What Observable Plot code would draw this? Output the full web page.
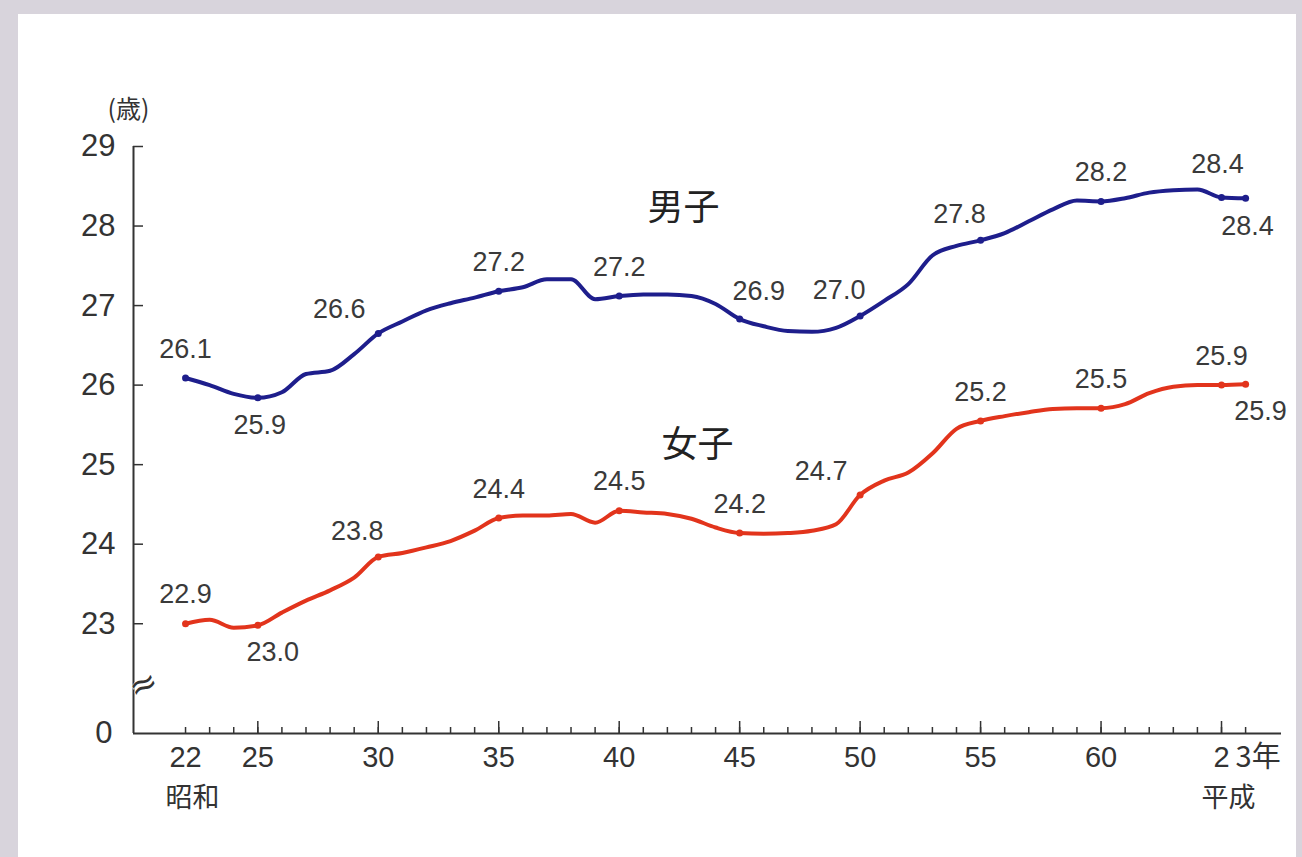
<!DOCTYPE html>
<html>
<head>
<meta charset="utf-8">
<script src="https://cdn.jsdelivr.net/npm/d3@7"></script>
<script src="https://cdn.jsdelivr.net/npm/@observablehq/plot@0.6"></script>
<style>
  html, body { margin: 0; padding: 0; width: 1302px; height: 857px; overflow: hidden; background: #d8d4dc; }
  #panel { position: absolute; left: 18px; top: 14px; width: 1278px; height: 843px; background: #ffffff; }
  #chart { position: absolute; left: 0; top: 0; }
  #chart svg { background: transparent !important; }
</style>
</head>
<body>
<div id="panel"></div>
<div id="chart"></div>
<script>
// Years on the Showa count (64 = Heisei 1, 65 = Heisei 2, 66 = Heisei 3)
const years = [22,23,24,25,26,27,28,29,30,31,32,33,34,35,36,37,38,39,40,41,42,43,44,45,46,47,48,49,50,51,52,53,54,55,56,57,58,59,60,61,62,63,64,65,66];
const male = [26.09,26.0,25.89,25.84,25.91,26.14,26.18,26.39,26.65,26.8,26.94,27.03,27.1,27.18,27.23,27.33,27.33,27.08,27.12,27.14,27.14,27.12,27.02,26.83,26.74,26.68,26.67,26.72,26.87,27.06,27.27,27.63,27.75,27.82,27.91,28.06,28.21,28.32,28.31,28.35,28.42,28.45,28.46,28.36,28.35];
const female = [23.0,23.05,22.95,22.98,23.14,23.29,23.42,23.58,23.84,23.89,23.96,24.04,24.17,24.33,24.36,24.36,24.38,24.27,24.42,24.4,24.38,24.32,24.21,24.14,24.13,24.14,24.17,24.25,24.62,24.8,24.9,25.14,25.45,25.55,25.61,25.66,25.7,25.71,25.71,25.76,25.9,25.98,26.0,26.0,26.01];

// Labelled years and their printed values
const labelYears = [22,25,30,35,40,45,50,55,60,65,66];
const maleLabels = ["26.1","25.9","26.6","27.2","27.2","26.9","27.0","27.8","28.2","28.4","28.4"];
const maleLabelSide = ["above","below","left","above","above","above-right","above-left","above-left","above","above-high","below"];
const femaleLabels = ["22.9","23.0","23.8","24.4","24.5","24.2","24.7","25.2","25.5","25.9","25.9"];
const femaleLabelSide = ["above","below-right","above-left","above","above","above","left","above","above","above","below-right"];

// Series names
const seriesNames = ["男子","女子"];
const seriesNameYear = [42.67, 43.25];
const seriesNameAge = [28.22, 25.24];

// Axis ticks
const minorTicks = years;
const majorTicks = [25,30,35,40,45,50,55,60,65];
const xTickYears = [22,25,30,35,40,45,50,55,60,65];
const xTickLabels = ["22","25","30","35","40","45","50","55","60","2"];
const lastTickYear = 66;
const lastTickLabel = "3年";
const eraLabels = ["昭和","平成"];
const eraYears = [22,65];
const yTicks = [23,24,25,26,27,28,29];
const yBase = 21.62;          // where the broken axis shows 0
const yBreak = 22.16;         // position of the ≈ break mark
const unitLabel = "(歳)";

const colors = {"男子": "#1e1e8c", "女子": "#e2341c"};
const num = "'Liberation Sans', Arial, Helvetica, sans-serif";
const cjk = "'Noto Sans CJK JP', sans-serif";

const series = years.flatMap((y, i) => [
  {year: y, sex: "男子", age: male[i]},
  {year: y, sex: "女子", age: female[i]}
]);
const ageAt = (arr, y) => arr[years.indexOf(y)];
const labelRows = [
  ...labelYears.map((y, i) => ({year: y, age: ageAt(male, y), text: maleLabels[i], side: maleLabelSide[i], sex: "男子"})),
  ...labelYears.map((y, i) => ({year: y, age: ageAt(female, y), text: femaleLabels[i], side: femaleLabelSide[i], sex: "女子"}))
];
const sideOffsets = {
  "above": [0, -29],
  "above-high": [-4, -33],
  "below": [2, 28],
  "above-left": [-21, -26],
  "left": [-39, -24],
  "above-right": [19, -28],
  "below-right": [15, 27]
};

const textMarks = Object.entries(sideOffsets).map(([side, [dx, dy]]) =>
  Plot.text(labelRows.filter(d => d.side === side), {
    x: "year", y: "age", text: "text", dx, dy,
    fontSize: 27, fill: "#3a3a3a", fontFamily: num
  })
);

const chart = Plot.plot({
  width: 1302,
  height: 857,
  marginLeft: 133,
  marginRight: 21,
  marginTop: 146,
  marginBottom: 124,
  style: {background: "transparent", fontFamily: num, color: "#333"},
  x: {domain: [19.84, 67.49], label: null},
  y: {domain: [yBase, 29], label: null},
  color: {domain: Object.keys(colors), range: Object.values(colors)},
  marks: [
    Plot.ruleY([yBase], {stroke: "#333", strokeWidth: 2}),
    Plot.ruleX([19.84], {stroke: "#333", strokeWidth: 2}),
    Plot.axisX({ticks: minorTicks, tickSize: -6, tickFormat: () => "", label: null, stroke: "#333", strokeWidth: 1.5}),
    Plot.axisX({ticks: majorTicks, tickSize: -12, tickFormat: () => "", label: null, stroke: "#333", strokeWidth: 1.5}),
    Plot.axisY({ticks: yTicks, tickSize: -10, tickFormat: () => "", label: null, stroke: "#333", strokeWidth: 1.5}),
    // break mark on the y axis
    Plot.text([yBreak], {y: d => d, frameAnchor: "left", text: () => "≈", fontSize: 34, fill: "#333", rotate: -25, dx: -3, fontFamily: "'DejaVu Sans', sans-serif", stroke: "#fff", strokeWidth: 1, paintOrder: "stroke"}),
    // y tick labels
    Plot.text(yTicks, {y: d => d, frameAnchor: "left", text: d => String(d), dx: -18, textAnchor: "end", fontSize: 31, fill: "#333"}),
    Plot.text([yBase], {y: d => d, frameAnchor: "left", text: () => "0", dx: -21, textAnchor: "end", fontSize: 31, fill: "#333"}),
    // x tick labels
    Plot.text(xTickYears, {x: d => d, frameAnchor: "bottom", text: (d, i) => xTickLabels[i], dy: 33, fontSize: 29, fill: "#333"}),
    Plot.text([lastTickYear], {x: d => d, frameAnchor: "bottom", text: () => lastTickLabel, dy: 33, dx: -10, textAnchor: "start", fontSize: 29, fill: "#333", fontFamily: cjk}),
    Plot.text(eraYears, {x: d => d, frameAnchor: "bottom", text: (d, i) => eraLabels[i], dy: 73, dx: (-20), textAnchor: "start", fontSize: 27, fill: "#333", fontFamily: cjk}),
    // unit
    Plot.text([unitLabel], {frameAnchor: "top-left", text: d => d, textAnchor: "middle", dx: -5, dy: -46, fontSize: 25, fill: "#333", fontFamily: cjk}),
    // lines
    Plot.line(series, {x: "year", y: "age", z: "sex", stroke: "sex", strokeWidth: 4, curve: "monotone-x"}),
    Plot.dot(series.filter(d => labelYears.includes(d.year)), {x: "year", y: "age", fill: "sex", r: 3.5}),
    ...textMarks,
    Plot.text(seriesNames, {x: (d, i) => seriesNameYear[i], y: (d, i) => seriesNameAge[i], text: d => d, fontSize: 36, fill: "#222", fontFamily: cjk})
  ]
});
document.getElementById("chart").appendChild(chart);
</script>
</body>
</html>
